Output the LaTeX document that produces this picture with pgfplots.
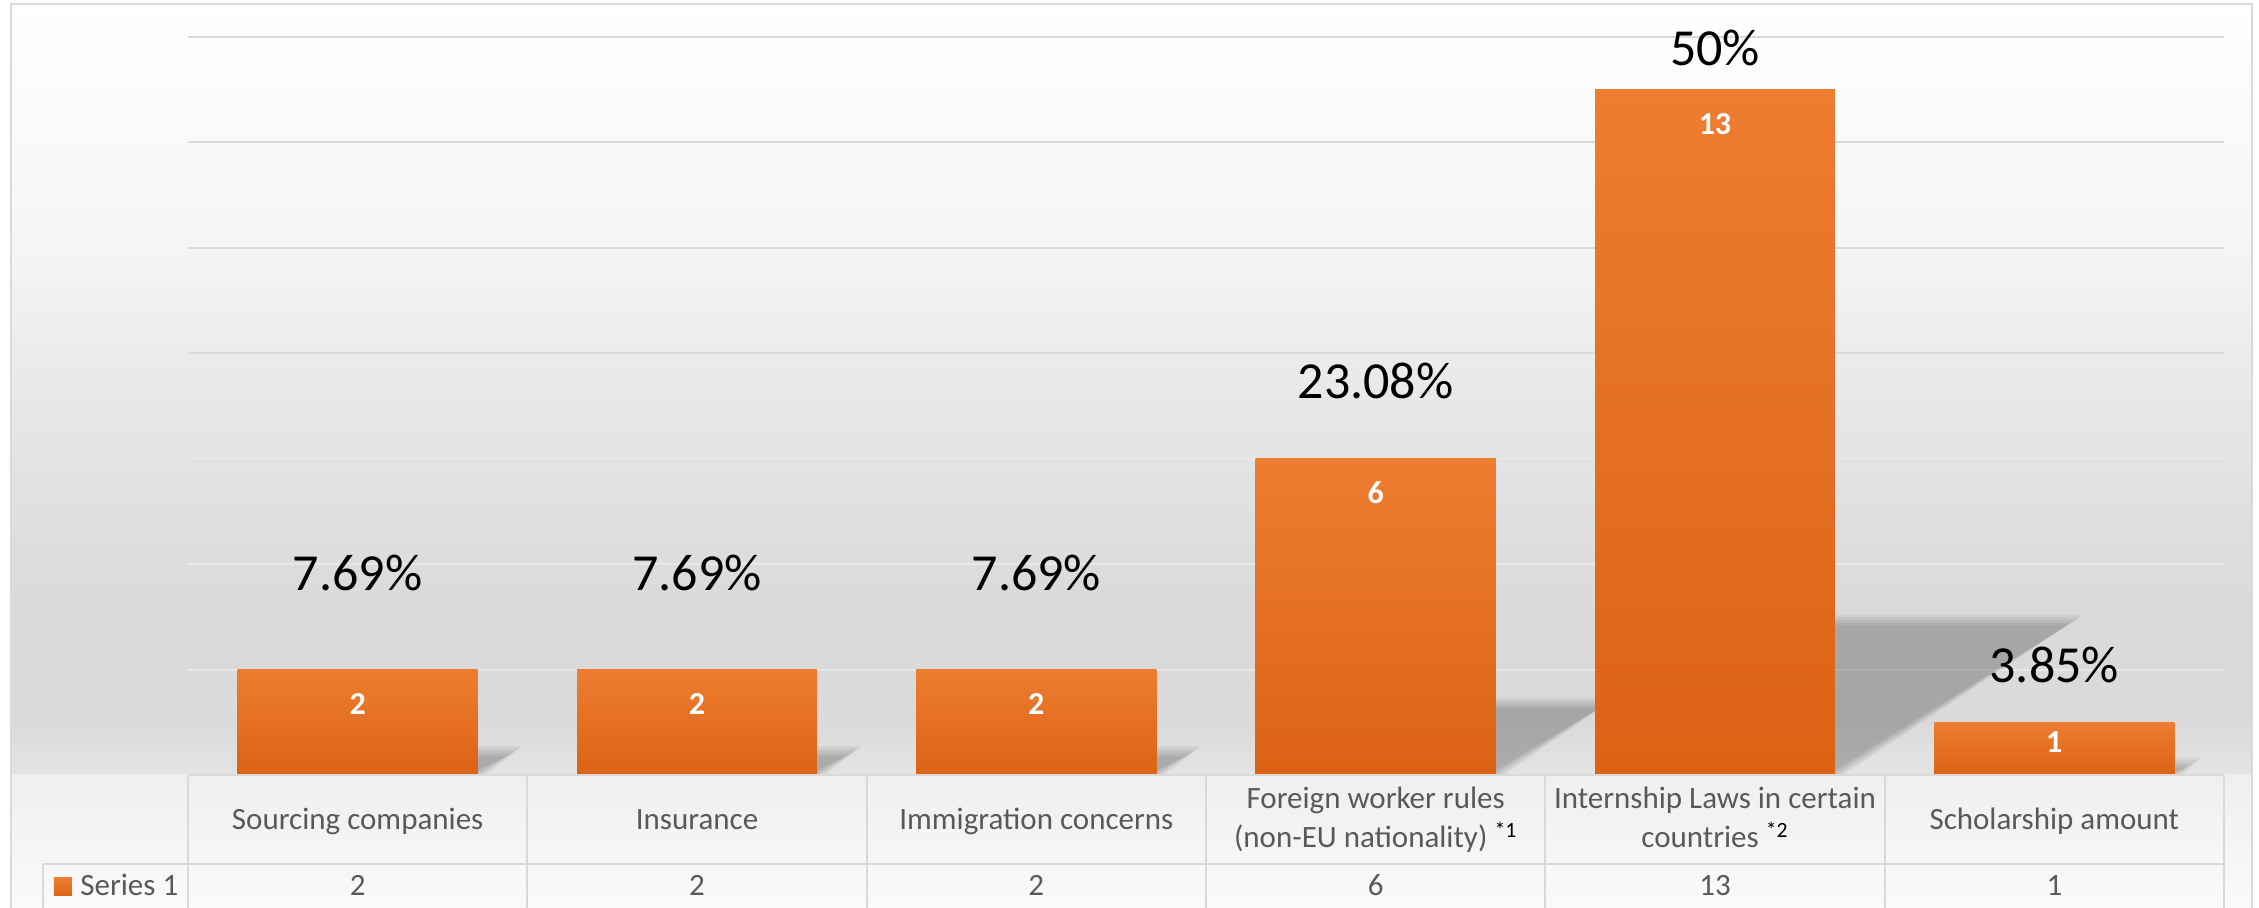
\documentclass[border=0pt]{standalone}
\usepackage{pgfplots}
\pgfplotsset{compat=1.18}
\usepackage{fontspec}
\setmainfont{Carlito}
\definecolor{barTop}{HTML}{ED7D31}
\definecolor{barBot}{HTML}{DC6214}
\definecolor{gridc}{HTML}{D9D9D9}
\definecolor{gridl}{HTML}{E8E8E8}
\definecolor{txt}{HTML}{595959}
\definecolor{bgA}{HTML}{F5F5F5}
\definecolor{bgB}{HTML}{E6E6E6}
\definecolor{bgC}{HTML}{DADADA}
\definecolor{bgD}{HTML}{E4E4E4}
\definecolor{bgE}{HTML}{EFEFEF}
\definecolor{bgF}{HTML}{FAFAFA}
\pgfplotsset{barstyle/.style={ybar, bar width=0.707, draw=none, top color=barTop, bottom color=barBot}}
\begin{document}
\begin{tikzpicture}[x=1pt,y=1pt]
\path[use as bounding box] (-94,-66.5) rectangle (1035.5,387.5);
\begin{scope}
\clip (-94,-66.5) rectangle (1035.5,387.5);
\fill[white] (-94,-66.5) rectangle (1035.5,387.5);
% chart background
\shade[top color=white, bottom color=bgA] (-88.5,263.5) rectangle (1032,385.5);
\shade[top color=bgA, bottom color=bgB] (-88.5,177.5) rectangle (1032,263.5);
\shade[top color=bgB, bottom color=bgC] (-88.5,87.5) rectangle (1032,177.5);
\fill[bgC] (-88.5,27.5) rectangle (1032,87.5);
\shade[top color=bgC, bottom color=bgD] (-88.5,0) rectangle (1032,27.5);
\shade[top color=bgE, bottom color=bgF] (-88.5,-66.5) rectangle (1032,0);
\draw[gridc, line width=1pt] (-88.5,-80) rectangle (1032,385.5);

\begin{axis}[
  at={(0,0)}, anchor=south west,
  scale only axis, width=1018pt, height=369pt,
  xmin=-0.5, xmax=5.5, ymin=0, ymax=14,
  clip=false,
  axis line style={draw=none},
  tick style={draw=none},
  xtick=\empty,
  ytick={8,10,12,14}, yticklabels={},
  extra y ticks={2,4,6}, extra y tick labels={},
  extra y tick style={grid style={gridl, line width=1pt}},
  ymajorgrids, grid style={gridc, line width=1pt},
]
% soft perspective shadows (layered for blurred edges)
\foreach \i/\v in {0/2,1/2,2/2,3/6,4/13,5/1}{
  \foreach \j in {-2,-1,0,1,2}{
    \edef\tmp{\noexpand\fill[black, opacity=0.05]
      (axis cs:\i+0.3535,0) -- (axis cs:\i+0.3535,0.226*\v+0.05*\j) --
      (axis cs:\i+0.3535+0.0544*\v+0.012*\j,0.226*\v+0.05*\j) -- (axis cs:\i+0.3535+0.012*\j,0) -- cycle;}
    \tmp
  }
}
\addplot[barstyle] coordinates {(0,2)};
\addplot[barstyle] coordinates {(1,2)};
\addplot[barstyle] coordinates {(2,2)};
\addplot[barstyle] coordinates {(3,6)};
\addplot[barstyle] coordinates {(4,13)};
\addplot[barstyle] coordinates {(5,1)};
\addplot[draw=none, mark=none,
  nodes near coords={\textbf{\pgfmathprintnumber[assume math mode=true]{\pgfplotspointmeta}}},
  every node near coord/.append style={white, font=\fontsize{16}{19}\selectfont, anchor=center, yshift=-17pt}]
  coordinates {(0,2) (1,2) (2,2) (3,6) (4,13)};
\addplot[draw=none, mark=none,
  nodes near coords={\textbf{\pgfmathprintnumber[assume math mode=true]{\pgfplotspointmeta}}},
  every node near coord/.append style={white, font=\fontsize{16}{19}\selectfont, anchor=center, yshift=-10pt}]
  coordinates {(5,1)};
% percentage labels
\node[font=\fontsize{26}{31}\selectfont] at (axis cs:0,3.84) {7.69\%};
\node[font=\fontsize{26}{31}\selectfont] at (axis cs:1,3.84) {7.69\%};
\node[font=\fontsize{26}{31}\selectfont] at (axis cs:2,3.84) {7.69\%};
\node[font=\fontsize{26}{31}\selectfont] at (axis cs:3,7.48) {23.08\%};
\node[font=\fontsize{26}{31}\selectfont] at (axis cs:4,13.80) {50\%};
\node[font=\fontsize{26}{31}\selectfont] at (axis cs:5,2.09) {3.85\%};
\end{axis}

% data table
\draw[gridc, line width=1pt] (0,0) -- (1018,0);
\draw[gridc, line width=1pt] (-72.5,-44.5) -- (1018,-44.5);
\foreach \x in {0,169.667,339.333,509,678.667,848.333,1018}
  \draw[gridc, line width=1pt] (\x,0) -- (\x,-70);
\draw[gridc, line width=1pt] (-72.5,-44.5) -- (-72.5,-70);
\begin{scope}[every node/.style={font=\fontsize{15.5}{19.5}\selectfont, text=txt, anchor=base, inner sep=0pt}]
\node at (84.83,-27.5) {Sourcing companies};
\node at (254.5,-27.5) {Insurance};
\node at (424.17,-27.5) {Immigration concerns};
\node at (593.83,-17) {Foreign worker rules};
\node at (593.83,-36.5) {(non-EU nationality) {\color{black}\textsuperscript{*1}}};
\node at (763.5,-17) {Internship Laws in certain};
\node at (763.5,-36.5) {countries {\color{black}\textsuperscript{*2}}};
\node at (933.17,-27.5) {Scholarship amount};
\node at (84.83,-60.5) {2};
\node at (254.5,-60.5) {2};
\node at (424.17,-60.5) {2};
\node at (593.83,-60.5) {6};
\node at (763.5,-60.5) {13};
\node at (933.17,-60.5) {1};
\node[anchor=base west] at (-54,-60.5) {Series 1};
\end{scope}
\shade[top color=barTop, bottom color=barBot] (-67,-60.5) rectangle (-58,-51.5);
\end{scope}
\end{tikzpicture}
\end{document}
